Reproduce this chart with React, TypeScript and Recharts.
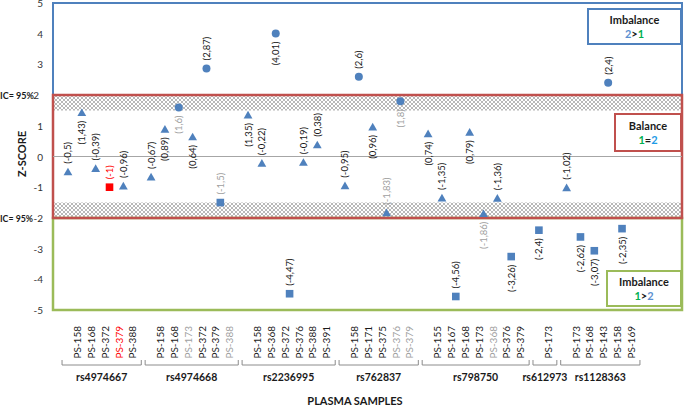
import { ScatterChart, Scatter, XAxis, YAxis, ReferenceArea, ReferenceLine } from 'recharts';

const groupNames = ['rs4974667', 'rs4974668', 'rs2236995', 'rs762837', 'rs798750', 'rs612973', 'rs1128363'];
const groupSizes = [5, 6, 6, 5, 7, 1, 5];

const sampleNames = [
  'PS-158', 'PS-168', 'PS-372', 'PS-379', 'PS-388',
  'PS-158', 'PS-168', 'PS-173', 'PS-372', 'PS-379', 'PS-388',
  'PS-158', 'PS-368', 'PS-372', 'PS-376', 'PS-388', 'PS-391',
  'PS-158', 'PS-171', 'PS-375', 'PS-376', 'PS-379',
  'PS-155', 'PS-167', 'PS-168', 'PS-173', 'PS-368', 'PS-376', 'PS-379',
  'PS-173',
  'PS-173', 'PS-168', 'PS-143', 'PS-158', 'PS-169',
];

const zScores = [
  -0.5, 1.43, -0.39, -1, -0.96,
  -0.67, 0.89, 1.6, 0.64, 2.87, -1.5,
  1.35, -0.22, 4.01, -4.47, -0.19, 0.38,
  -0.95, 2.6, 0.96, -1.83, 1.8,
  0.74, -1.35, -4.56, 0.79, -1.86, -1.36, -3.26,
  -2.4,
  -1.02, -2.62, -3.07, 2.4, -2.35,
];

// t = triangle, c = circle, s = square
const markerShapes = [
  't', 't', 't', 's', 't',
  't', 't', 'c', 't', 'c', 's',
  't', 't', 'c', 's', 't', 't',
  't', 'c', 't', 't', 'c',
  't', 't', 's', 't', 't', 't', 's',
  's',
  't', 's', 's', 'c', 's',
];

// n = normal, g = grey (excluded), r = red
const sampleTones = [
  'n', 'n', 'n', 'r', 'n',
  'n', 'n', 'g', 'n', 'n', 'g',
  'n', 'n', 'n', 'n', 'n', 'n',
  'n', 'n', 'n', 'g', 'g',
  'n', 'n', 'n', 'n', 'g', 'n', 'n',
  'n',
  'n', 'n', 'n', 'n', 'n',
];

const labelSides = [
  'up', 'down', 'up', 'up', 'up',
  'up', 'down', 'down', 'down', 'up', 'up',
  'down', 'up', 'down', 'up', 'up', 'up',
  'up', 'up', 'down', 'up', 'down',
  'down', 'up', 'up', 'down', 'down', 'up', 'down',
  'down',
  'up', 'down', 'down', 'up', 'down',
];

const yTicks = [-5, -4, -3, -2, -1, 0, 1, 2, 3, 4, 5];

const BLUE = '#4F81BD';
const RED_LINE = '#C0504D';
const GREEN_LINE = '#9BBB59';
const TEXT = '#1a1a1a';
const FONT = 'Lato, "DejaVu Sans", sans-serif';
const X_MIN = -1.08;
const X_MAX = 44.33;
const PLOT_W = 684 - 53 - 2;
const SLOT_PX = PLOT_W / (X_MAX - X_MIN);

const toneColor = (tone: string) => (tone === 'g' ? '#A0A0A0' : tone === 'r' ? '#FF0000' : TEXT);

// one blank category between SNP groups
const points: any[] = [];
{
  let slot = 0;
  let k = 0;
  groupSizes.forEach((n, g) => {
    for (let i = 0; i < n; i++) {
      points.push({
        x: slot,
        y: zScores[k],
        name: sampleNames[k],
        shape: markerShapes[k],
        tone: sampleTones[k],
        side: labelSides[k],
        group: g,
        first: i === 0,
      });
      slot++;
      k++;
    }
    slot++;
  });
}

const Marker = (props: any) => {
  const { cx, cy, payload } = props;
  const fill = payload.tone === 'r' ? '#FF0000' : BLUE;
  let mark;
  if (payload.shape === 'c') mark = <circle cx={cx} cy={cy} r={4} fill={fill} />;
  else if (payload.shape === 's') mark = <rect x={cx - 3.8} y={cy - 3.8} width={7.6} height={7.6} fill={fill} />;
  else mark = <polygon points={`${cx},${cy - 4.2} ${cx + 4.4},${cy + 3.5} ${cx - 4.4},${cy + 3.5}`} fill={fill} />;
  const up = payload.side === 'up';
  const ly = up ? cy - 8 : cy + 8;
  const label = `(${String(payload.y).replace('.', ',')})`;
  return (
    <g>
      {mark}
      <text
        x={cx}
        y={ly}
        transform={`rotate(-90, ${cx}, ${ly})`}
        textAnchor={up ? 'start' : 'end'}
        dominantBaseline="central"
        fontSize={9.5}
        fontFamily={FONT}
        fill={toneColor(payload.tone)}
      >
        {label}
      </text>
    </g>
  );
};

// sample name, plus the SNP bracket and name under the first sample of each group
const SampleTick = ({ x, y, payload }: any) => {
  const p = points.find((d) => d.x === payload.value);
  if (!p) return null;
  const tx = x + 9;
  const ty = y + 14;
  let bracket = null;
  if (p.first) {
    const n = groupSizes[p.group];
    const cx = x + ((n - 1) / 2) * SLOT_PX + 6;
    const half = (n * SLOT_PX) / 2 + 5;
    const by = y + 53;
    bracket = (
      <g>
        <path
          d={`M${cx - half},${by - 5} L${cx - half},${by} L${cx + half},${by} L${cx + half},${by - 5}`}
          stroke="#8C8C8C"
          fill="none"
        />
        <text x={cx} y={y + 65} textAnchor="middle" dominantBaseline="central" fontSize={10.5} fontWeight="bold" fontFamily={FONT} fill={TEXT}>
          {groupNames[p.group]}
        </text>
      </g>
    );
  }
  return (
    <g>
      <text
        x={tx}
        y={ty}
        transform={`rotate(-90, ${tx}, ${ty})`}
        textAnchor="end"
        dominantBaseline="central"
        fontSize={10}
        fontFamily={FONT}
        fill={toneColor(p.tone)}
      >
        {p.name}
      </text>
      {bracket}
    </g>
  );
};

const ZTick = ({ x, y, payload }: any) => {
  const v = payload.value;
  return (
    <g>
      {(v === 2 || v === -2) && (
        <text
          x={0}
          y={y}
          textAnchor="start"
          dominantBaseline="central"
          fontSize={10}
          fontWeight="bold"
          fontFamily={FONT}
          fill={TEXT}
          textLength={v === 2 ? 34 : 33}
          lengthAdjust="spacingAndGlyphs"
        >
          IC= 95%
        </text>
      )}
      <text x={v === 2 ? x - 12 : x - 8} y={y} textAnchor="end" dominantBaseline="central" fontSize={10} fontFamily={FONT} fill="#333">
        {v}
      </text>
    </g>
  );
};

const boxStyle = (color: string, left: number, top: number, width: number, height: number): any => ({
  position: 'absolute',
  left,
  top,
  width,
  height,
  boxSizing: 'border-box',
  border: `2px solid ${color}`,
  background: '#fff',
  display: 'flex',
  flexDirection: 'column',
  justifyContent: 'center',
  alignItems: 'center',
  fontFamily: FONT,
  fontWeight: 'bold',
  fontSize: 11,
  lineHeight: '14px',
  color: TEXT,
});

const App = () => {
  return (
    <div style={{ position: 'absolute', left: 0, top: 0, width: 684, height: 408, background: '#fff', fontFamily: FONT }}>
      <svg width={0} height={0} style={{ position: 'absolute' }}>
        <defs>
          <pattern id="ciHatch" width={4} height={4} patternUnits="userSpaceOnUse">
            <rect width={4} height={4} fill="#fff" />
            <path d="M0,0 L4,4 M4,0 L0,4" stroke="#9A9A9A" strokeWidth={0.7} />
          </pattern>
        </defs>
      </svg>
      <ScatterChart width={684} height={408} margin={{ top: 3, right: 2, bottom: 0, left: 0 }}>
        <XAxis
          type="number"
          dataKey="x"
          domain={[X_MIN, X_MAX]}
          ticks={points.map((p) => p.x)}
          interval={0}
          axisLine={false}
          tickLine={false}
          tickSize={0}
          height={98}
          tick={<SampleTick />}
        />
        <YAxis
          type="number"
          dataKey="y"
          domain={[-5, 5]}
          ticks={yTicks}
          interval={0}
          axisLine={false}
          tickLine={false}
          tickSize={0}
          width={53}
          tick={<ZTick />}
        />
        <ReferenceArea y1={1.5} y2={2} fill="url(#ciHatch)" fillOpacity={1} stroke="none" />
        <ReferenceArea y1={-2} y2={-1.5} fill="url(#ciHatch)" fillOpacity={1} stroke="none" />
        <ReferenceLine y={0} stroke="#A6A6A6" strokeWidth={1} />
        <ReferenceArea y1={2} y2={5} fill="none" stroke={BLUE} strokeWidth={2} />
        <ReferenceArea y1={-5} y2={-2} fill="none" stroke={GREEN_LINE} strokeWidth={2.5} />
        <ReferenceArea y1={-2} y2={2} fill="none" stroke={RED_LINE} strokeWidth={2.5} />
        <Scatter data={points} shape={(p: any) => <Marker {...p} />} isAnimationActive={false} />
      </ScatterChart>

      <div style={boxStyle(BLUE, 587, 8, 95, 37)}>
        <div>Imbalance</div>
        <div>
          <span style={{ color: '#5B8FD0' }}>2</span>&gt;<span style={{ color: '#00B050' }}>1</span>
        </div>
      </div>
      <div style={boxStyle(RED_LINE, 614, 113, 68, 39)}>
        <div>Balance</div>
        <div>
          <span style={{ color: '#00B050' }}>1</span>=<span style={{ color: '#1E9BE6' }}>2</span>
        </div>
      </div>
      <div style={boxStyle(GREEN_LINE, 606, 270, 76, 37)}>
        <div>Imbalance</div>
        <div>
          <span style={{ color: '#00B050' }}>1</span>&gt;<span style={{ color: '#5B8FD0' }}>2</span>
        </div>
      </div>

      <div
        style={{
          position: 'absolute',
          left: 22 - 40,
          top: 154 - 8,
          width: 80,
          height: 16,
          lineHeight: '16px',
          textAlign: 'center',
          transform: 'rotate(-90deg)',
          fontWeight: 'bold',
          fontSize: 11,
          color: TEXT,
        }}
      >
        Z-SCORE
      </div>
      <div
        style={{
          position: 'absolute',
          left: 355 - 80,
          top: 401 - 8,
          width: 160,
          height: 16,
          lineHeight: '16px',
          textAlign: 'center',
          fontWeight: 'bold',
          fontSize: 11,
          color: TEXT,
        }}
      >
        PLASMA SAMPLES
      </div>
    </div>
  );
};

export default App;
